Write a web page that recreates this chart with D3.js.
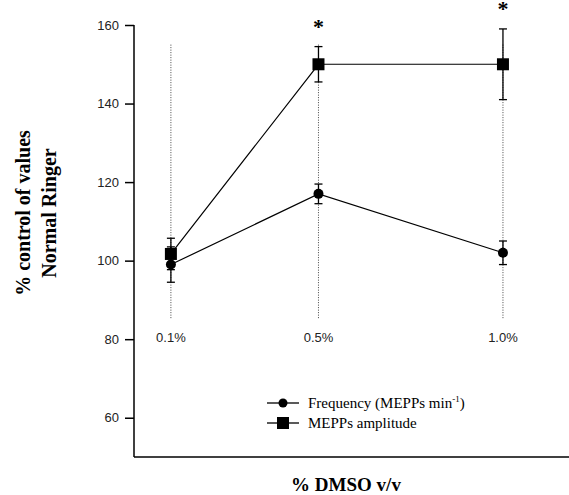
<!DOCTYPE html>
<meta charset="utf-8">
<style>
  body { margin: 0; background: #fff; }
  text { fill: #000; }
</style>
<body>
<script src="https://d3js.org/d3.v7.min.js"></script>
<script>
// % DMSO concentrations and their tick labels
var doses = [0.1, 0.5, 1.0];
var doseLabels = ["0.1%", "0.5%", "1.0%"];

// frequency (MEPPs/min), % of Normal Ringer control
var freqMean = [99, 117, 102];
var freqErr = [4.5, 2.5, 3];

// MEPPs amplitude, % of control
var ampMean = [101.7, 150, 150];
var ampErr = [4, 4.5, 9];

// doses marked significant
var signif = [0.5, 1.0];
var yTicks = [60, 80, 100, 120, 140, 160];

var W = 569, H = 495;
var svg = d3.select("body").append("svg").attr("width", W).attr("height", H);

var x = d3.scaleLinear().domain([0, 1.179]).range([134, 569]);
var y = d3.scaleLinear().domain([50, 160]).range([457, 25]);

// dotted guide lines at each dose
svg.selectAll("line.guide").data(doses).enter().append("line")
  .attr("x1", d => x(d)).attr("x2", d => x(d))
  .attr("y1", y(155)).attr("y2", y(85.3))
  .attr("stroke", "#444").attr("stroke-width", 1)
  .attr("stroke-dasharray", "1,1.5");

// dose labels
svg.selectAll("text.dose").data(doses).enter().append("text")
  .attr("x", d => x(d)).attr("y", 342)
  .attr("text-anchor", "middle")
  .style("font", "13px 'Liberation Sans'")
  .style("fill", "#222")
  .text((d, i) => doseLabels[i]);

// y axis
var yAxis = d3.axisLeft(y).tickValues(yTicks).tickSize(9).tickPadding(6);
var gy = svg.append("g").attr("transform", "translate(134,0)").call(yAxis);
gy.select(".domain").attr("d", "M0," + y(160) + "V" + y(50)).attr("stroke-width", 1.5);
gy.selectAll(".tick line").attr("stroke-width", 1.5);
gy.selectAll(".tick text").style("font", "13px 'Liberation Sans'").style("fill", "#222");

// x axis baseline
svg.append("line").attr("x1", x(0)).attr("x2", W).attr("y1", y(50)).attr("y2", y(50))
  .attr("stroke", "#000").attr("stroke-width", 1.5);

var line = d3.line().x(d => x(d[0])).y(d => y(d[1]));

function drawSeries(means, errs, shape) {
  var pts = doses.map((d, i) => [d, means[i], errs[i]]);
  svg.append("path").datum(pts).attr("d", line)
    .attr("fill", "none").attr("stroke", "#000").attr("stroke-width", 1.2);
  var g = svg.append("g");
  pts.forEach(function(p) {
    var cx = x(p[0]);
    g.append("line").attr("x1", cx).attr("x2", cx)
      .attr("y1", y(p[1] - p[2])).attr("y2", y(p[1] + p[2]))
      .attr("stroke", "#000").attr("stroke-width", 1.3);
    [p[1] - p[2], p[1] + p[2]].forEach(function(v) {
      g.append("line").attr("x1", cx - 4).attr("x2", cx + 4)
        .attr("y1", y(v)).attr("y2", y(v))
        .attr("stroke", "#000").attr("stroke-width", 1.3);
    });
    if (shape === "square") {
      g.append("rect").attr("x", cx - 6).attr("y", y(p[1]) - 6)
        .attr("width", 12).attr("height", 12).attr("fill", "#000");
    } else {
      g.append("circle").attr("cx", cx).attr("cy", y(p[1])).attr("r", 5).attr("fill", "#000");
    }
  });
}

drawSeries(freqMean, freqErr, "circle");
drawSeries(ampMean, ampErr, "square");

// significance asterisks
svg.selectAll("text.star").data(signif).enter().append("text")
  .attr("x", d => x(d))
  .attr("y", d => y(ampMean[doses.indexOf(d)] + ampErr[doses.indexOf(d)]) - 13)
  .attr("text-anchor", "middle")
  .style("font", "bold 22px 'Liberation Serif'")
  .text("*");

// legend
var leg = svg.append("g").attr("transform", "translate(267,403)");
[["circle", "Frequency (MEPPs min"], ["square", "MEPPs amplitude"]].forEach(function(e, i) {
  var gy0 = i * 20;
  leg.append("line").attr("x1", 0).attr("x2", 32).attr("y1", gy0).attr("y2", gy0)
    .attr("stroke", "#000").attr("stroke-width", 1.3);
  if (e[0] === "circle") leg.append("circle").attr("cx", 16).attr("cy", gy0).attr("r", 4.5);
  else leg.append("rect").attr("x", 10).attr("y", gy0 - 6).attr("width", 12).attr("height", 12);
  var t = leg.append("text").attr("x", 41).attr("y", gy0 + 5)
    .style("font", "15px 'Liberation Serif'").text(e[1]);
  if (i === 0) {
    t.append("tspan").attr("dy", -6).style("font-size", "9px").text("-1");
    t.append("tspan").attr("dy", 6).text(")");
  }
});

// axis titles
svg.append("text").attr("x", 346).attr("y", 491).attr("text-anchor", "middle")
  .style("font", "bold 19px 'Liberation Serif'").text("% DMSO v/v");
var yt = svg.append("text").attr("transform", "translate(30,213) rotate(-90)")
  .attr("text-anchor", "middle").style("font", "bold 20px 'Liberation Serif'");
yt.append("tspan").attr("x", 0).attr("y", 0).text("% control of values");
yt.append("tspan").attr("x", 0).attr("y", 26).text("Normal Ringer");
</script>
</body>
